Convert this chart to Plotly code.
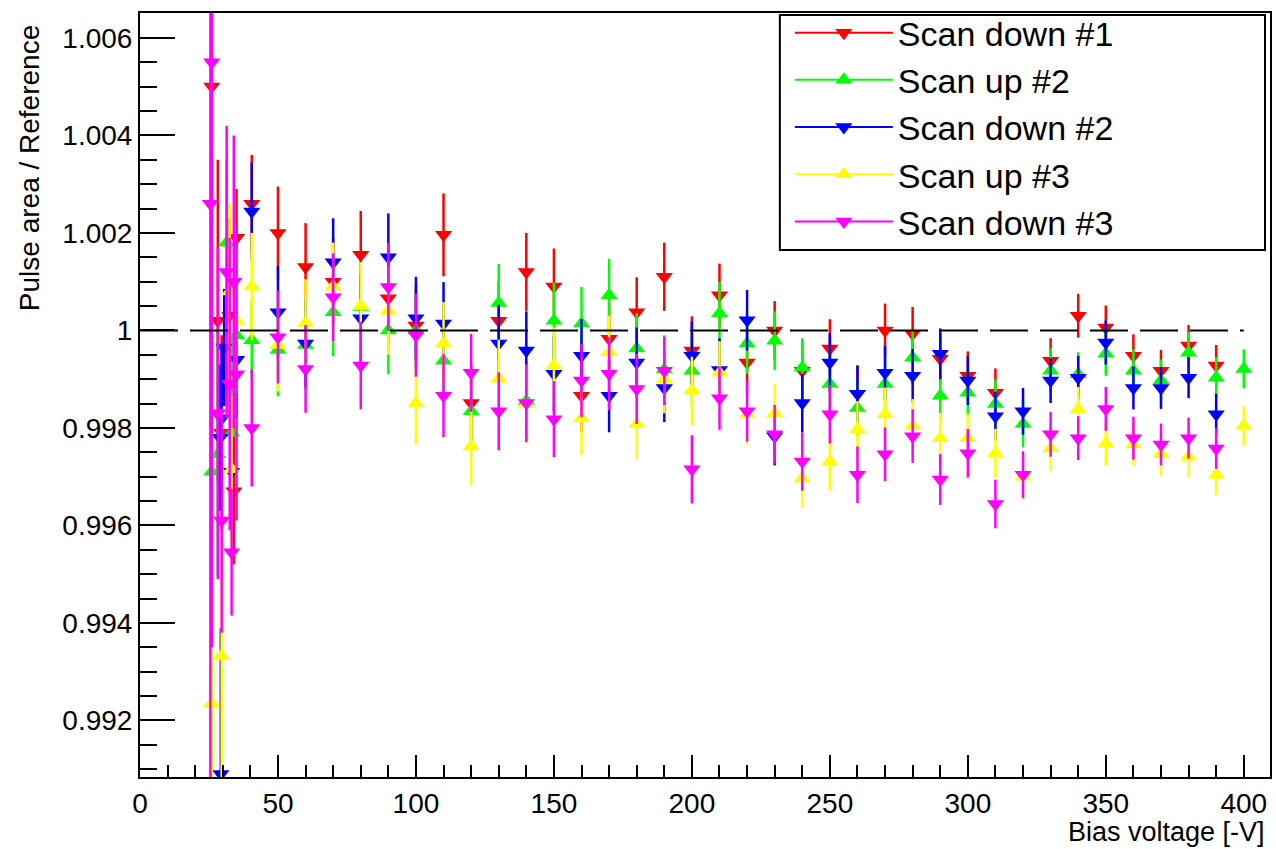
import plotly.graph_objects as go

# ---------------- data ----------------
X_MAIN = [50, 60, 70, 80, 90, 100, 110, 120, 130, 140, 150, 160, 170, 180, 190, 200,
          210, 220, 230, 240, 250, 260, 270, 280, 290, 300, 310, 320, 330, 340, 350,
          360, 370, 380, 390, 400]
ERR_MAIN = [0.00095, 0.0009, 0.0009, 0.0009, 0.0009, 0.00085, 0.00085, 0.0008, 0.0008, 0.0008,
            0.00078, 0.00075, 0.00075, 0.00072, 0.0007, 0.0007, 0.00065, 0.00062, 0.0006, 0.0006,
            0.0006, 0.00058, 0.00055, 0.00055, 0.00052, 0.0005, 0.0005, 0.00048, 0.00046, 0.00045,
            0.00045, 0.00044, 0.00043, 0.00042, 0.00042, 0.0004]

down1_main = [1.0020, 1.0013, 1.0010, 1.00155, 1.00066, 1.0001, 1.00196, 0.99851, 1.0002, 1.0012,
              1.0009, 0.99866, 0.99983, 1.00037, 1.0011, 0.99959, 1.00072, 0.99934, 1.0000, 0.99917,
              0.99963, 0.9987, 1.0000, 0.99993, 0.99942, 0.99907, 0.99872, None, 0.99938, 1.0003,
              1.00006, 0.99948, 0.99917, 0.99969, 0.99928, None]
up2_main = [0.9996, 0.9997, 1.00037, 1.00048, 1.0000, 1.0000, 0.99938, 0.99834, 1.00056, 0.99855,
            1.0002, 1.00014, 1.00072, 0.99963, 0.9992, 0.99917, 1.00035, 0.99973, 0.99979, 0.99924,
            0.9989, 0.99841, 0.9989, 0.99944, 0.99866, 0.99872, 0.99849, 0.99808, 0.99917, 0.9991,
            0.99952, 0.99917, 0.99897, 0.99954, 0.99903, 0.99921]
down2_main = [1.00037, 0.99973, 1.0014, 1.00025, 1.0015, 1.00025, 1.00014, None, 0.99973, 0.99959,
              0.99911, 0.99948, 0.99866, 0.99934, 0.99882, 0.99948, 0.99919, 1.00021, 0.99783, 0.99851,
              0.99934, 0.9987, 0.99913, 0.99907, 0.99952, 0.99897, 0.99824, 0.99834, 0.99897, 0.99903,
              0.99975, 0.99882, 0.99882, 0.99903, 0.99828, None]
up3_main = [0.9997, 1.00015, 1.0009, 1.0005, 1.0004, 0.99851, 0.99973, 0.99762, 0.99901, 0.99849,
            0.99928, 0.9982, 0.99955, 0.99808, 0.9990, 0.99876, 0.99913, 0.99828, 0.9983, 0.99696,
            0.99731, 0.99797, 0.99828, 0.99804, 0.99779, 0.99779, 0.99748, 0.9970, 0.99758, 0.99839,
            0.99768, 0.99766, 0.99746, 0.99741, 0.99704, 0.99804]
down3_main = [0.99986, 0.99921, 1.00068, 0.99928, 1.00089, 0.9999, 0.99866, 0.99913, 0.99834, 0.99851,
              0.99818, 0.99897, 0.99911, 0.9988, 0.99917, 0.99715, 0.99861, 0.99834, 0.99787, 0.99731,
              0.99828, 0.99704, 0.99746, 0.99783, 0.99694, 0.99748, 0.99644, 0.99704, 0.99787, 0.99779,
              0.99839, 0.99779, 0.99766, 0.99779, 0.99758, None]

# low-voltage region (below full depletion)
down1_low_x = [26.0, 28.2, 29.6, 32.5, 34.0, 35.0, 40.5]
down1_low_y = [1.0050, 1.0002, 0.9979, 1.0003, 0.9967, 1.0019, 1.0026]
down1_low_e = [0.003, 0.0033, 0.002, 0.002, 0.0015, 0.001, 0.001]

up2_low_x = [26.0, 28.2, 31.4, 33.2, 35.0, 40.5]
up2_low_y = [0.9971, 0.99746, 1.0018, 0.9979, 0.9999, 0.9998]
up2_low_e = [0.003, 0.0025, 0.0017, 0.002, 0.0015, 0.0008]

down2_low_x = [29.3, 29.0, 29.6, 30.5, 33.2, 35.0, 40.5]
down2_low_y = [0.9909, 0.9978, 0.9982, 0.99965, 0.9971, 0.9994, 1.00244]
down2_low_e = [0.003, 0.0015, 0.0015, 0.0012, 0.0012, 0.0012, 0.001]

up3_low_x = [26.0, 29.6, 32.5, 33.2, 35.0, 40.5]
up3_low_y = [0.99235, 0.99332, 1.0008, 0.99715, 1.0002, 1.0009]
up3_low_e = [0.003, 0.0025, 0.0018, 0.0015, 0.0015, 0.0011]

down3_low_x = [25.5, 26.0, 28.2, 29.6, 31.4, 32.5, 33.2, 34.0, 35.0, 40.5]
down3_low_y = [1.0026, 1.0055, 0.9983, 0.9961, 1.0012, 0.9989, 0.99545, 1.0010, 0.9991, 0.9980]
down3_low_e = [0.012, 0.012, 0.0034, 0.0023, 0.003, 0.003, 0.0013, 0.003, 0.003, 0.0012]

SERIES = ["Scan down #1", "Scan up #2", "Scan down #2", "Scan up #3", "Scan down #3"]
COLORS = ["#ff0000", "#00ff00", "#0000ff", "#ffff00", "#ff00ff"]
SYMBOLS = ["triangle-down", "triangle-up", "triangle-down", "triangle-up", "triangle-down"]

Y_TICKS = [0.992, 0.994, 0.996, 0.998, 1.0, 1.002, 1.004, 1.006]
Y_TICKTEXT = ["0.992", "0.994", "0.996", "0.998", "1", "1.002", "1.004", "1.006"]
X_TICKS = [0, 50, 100, 150, 200, 250, 300, 350, 400]

# ---------------- figure ----------------
W, H = 1276, 849
ML, MR, MT, MB = 140, 4, 10, 72
PW, PH = W - ML - MR, H - MT - MB


def px_x(p):
    return (p - ML) / PW


def px_y(p):
    return (H - MB - p) / PH


lows = [(down1_low_x, down1_low_y, down1_low_e), (up2_low_x, up2_low_y, up2_low_e),
        (down2_low_x, down2_low_y, down2_low_e), (up3_low_x, up3_low_y, up3_low_e),
        (down3_low_x, down3_low_y, down3_low_e)]
mains = [down1_main, up2_main, down2_main, up3_main, down3_main]

fig = go.Figure()
FONT = "Liberation Sans, Arial, Helvetica, sans-serif"

for name, col, sym, (lx, ly, le), my in zip(SERIES, COLORS, SYMBOLS, lows, mains):
    xs = list(lx) + X_MAIN
    ys = list(ly) + my
    es = list(le) + ERR_MAIN
    fig.add_trace(go.Scatter(
        x=xs, y=ys, mode="markers", name=name, showlegend=False,
        marker=dict(symbol=sym, size=15, color=col, line=dict(width=0)),
        error_y=dict(type="data", array=es, visible=True, color=col, thickness=2.5, width=0),
    ))

for name, col, sym in zip(SERIES, COLORS, SYMBOLS):
    fig.add_trace(go.Scatter(
        x=[None], y=[None], mode="lines+markers", name=name,
        line=dict(color=col, width=2),
        marker=dict(symbol=sym, size=15, color=col),
    ))

fig.add_shape(type="line", xref="x", yref="y", x0=0, x1=400, y0=1.0, y1=1.0,
              line=dict(color="black", width=2, dash="38px,12px"), layer="above")
# legend frame
fig.add_shape(type="rect", xref="paper", yref="paper",
              x0=px_x(781), x1=px_x(1267), y0=px_y(248), y1=px_y(12),
              line=dict(color="black", width=2), fillcolor="white", layer="above")

fig.update_layout(
    width=W, height=H,
    margin=dict(l=ML, r=MR, t=MT, b=MB),
    paper_bgcolor="white", plot_bgcolor="white",
    font=dict(family=FONT, color="black"),
    showlegend=True,
    legend=dict(
        x=px_x(791), y=px_y(1), xanchor="left", yanchor="top",
        bgcolor="rgba(0,0,0,0)", borderwidth=0,
        font=dict(size=34, family=FONT), itemwidth=98,
        tracegroupgap=0,
    ),
    xaxis=dict(
        range=[0, 409.5], showgrid=False, zeroline=False,
        showline=True, linecolor="black", linewidth=2, mirror=True,
        ticks="inside", ticklen=22, tickwidth=2, tickcolor="black",
        tickvals=X_TICKS, tickfont=dict(size=28, family=FONT),
        minor=dict(dtick=10, ticklen=12, tickwidth=2, tickcolor="black", ticks="inside"),
    ),
    yaxis=dict(
        range=[0.99084, 1.00651], showgrid=False, zeroline=False,
        showline=True, linecolor="black", linewidth=2, mirror=True,
        ticks="inside", ticklen=35, tickwidth=2, tickcolor="black",
        tickvals=Y_TICKS, ticktext=Y_TICKTEXT, tickfont=dict(size=28, family=FONT),
        minor=dict(dtick=0.0005, tick0=0.99, ticklen=17, tickwidth=2, tickcolor="black", ticks="inside"),
    ),
    annotations=[
        dict(text="Pulse area / Reference", xref="paper", yref="paper",
             x=px_x(30), y=px_y(20), xanchor="center", yanchor="top", textangle=-90,
             showarrow=False, font=dict(size=28, family=FONT)),
        dict(text="Bias voltage [-V]", xref="paper", yref="paper",
             x=px_x(1269), y=px_y(832), xanchor="right", yanchor="middle",
             showarrow=False, font=dict(size=27, family=FONT)),
    ],
)

fig.write_html("out.html", config={"displayModeBar": False},
               post_script="document.body.style.margin='0';document.body.style.overflow='hidden';")
